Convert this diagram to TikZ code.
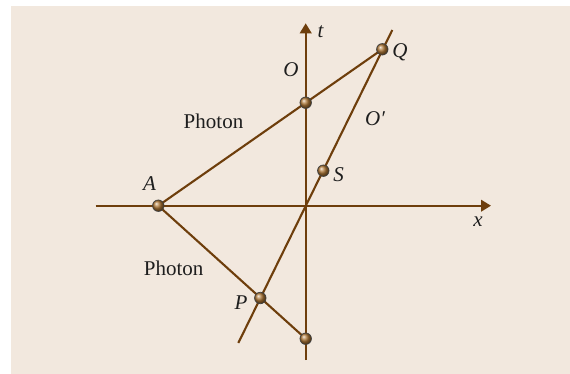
\documentclass[tikz,border=0pt]{standalone}
\usepackage{fontspec}
\setmainfont{Liberation Serif}
\usetikzlibrary{arrows.meta}
\definecolor{bg}{RGB}{242,232,222}
\definecolor{ln}{RGB}{110,62,12}
\definecolor{txt}{RGB}{30,30,30}
\definecolor{ballc}{RGB}{175,120,55}
\begin{document}
\begin{tikzpicture}[x=1pt,y=-1pt,
  axis/.style={draw=ln, line width=2.3pt, -{Triangle[length=10pt,width=11.5pt]}},
  wline/.style={draw=ln, line width=2.1pt},
  ball/.style={circle, draw=black!75, line width=0.7pt, inner sep=0pt, minimum size=11.5pt, shading=ball, ball color=ballc},
  lab/.style={text=txt, font=\fontsize{21}{24}\selectfont\itshape, inner sep=0pt},
  plab/.style={text=txt, font=\fontsize{21}{24}\selectfont, inner sep=0pt}]
\useasboundingbox (0,0) rectangle (570,374);
\fill[bg] (11,6) rectangle (570,374);
% coordinates
\coordinate (xs) at (95.7,205.7);
\coordinate (xe) at (491,205.7);
\coordinate (ts) at (305.7,360);
\coordinate (te) at (305.7,23.3);
\coordinate (o1) at (238.3,343);
\coordinate (o2) at (392.3,30);
\coordinate (A) at (158.3,205.7);
\coordinate (Oc) at (305.7,102.7);
\coordinate (Q) at (382.3,49.3);
\coordinate (S) at (323.3,170.7);
\coordinate (P) at (260.3,298);
\coordinate (B) at (305.7,338.7);
% axes
\draw[axis] (xs) -- (xe);
\draw[axis] (ts) -- (te);
% world lines
\draw[wline] (o1) -- (o2);
\draw[wline] (A) -- (Q);
\draw[wline] (A) -- (B);
% events
\node[ball] (bA) at (A) {};
\node[ball] (bO) at (Oc) {};
\node[ball] (bQ) at (Q) {};
\node[ball] (bS) at (S) {};
\node[ball] (bP) at (P) {};
\node[ball] (bB) at (B) {};
% labels
\node[lab] (lt) at (320.5,32) {t};
\node[lab] (lx) at (478,222) {x};
\node[lab] (lO) at (291,70) {O};
\node[lab] (lOp) at (375,119) {O′};
\node[lab] (lQ) at (400,52) {Q};
\node[lab] (lS) at (338.5,174.5) {S};
\node[lab] (lA) at (149.5,184) {A};
\node[lab] (lP) at (241,302.5) {P};
\node[plab] (ph1) at (213.5,121) {Photon};
\node[plab] (ph2) at (173.7,268) {Photon};
\end{tikzpicture}
\end{document}
